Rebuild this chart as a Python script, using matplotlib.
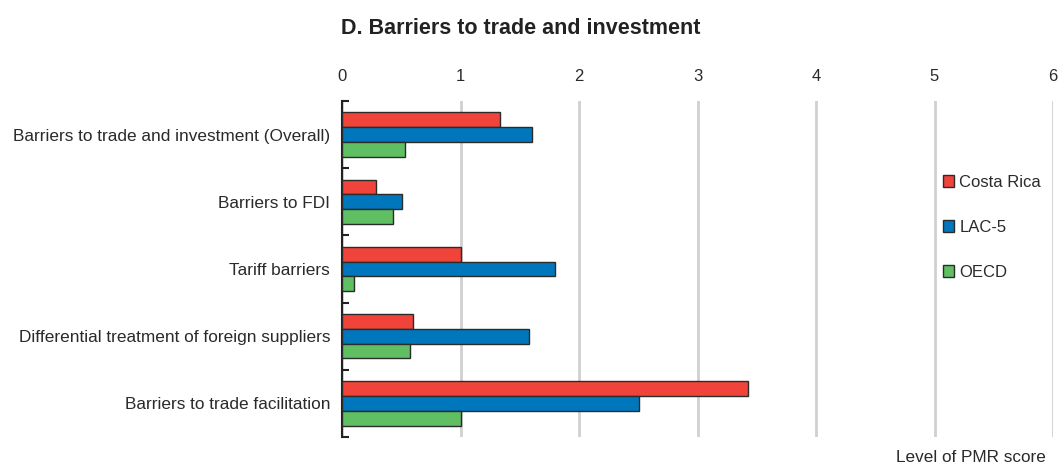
import matplotlib
matplotlib.use("Agg")
import matplotlib.pyplot as plt
from matplotlib.patches import Patch
from matplotlib import font_manager
import numpy as np

categories = [
    "Barriers to trade and investment (Overall)",
    "Barriers to FDI",
    "Tariff barriers",
    "Differential treatment of foreign suppliers",
    "Barriers to trade facilitation",
]
series_names = ["Costa Rica", "LAC-5", "OECD"]
costa_rica = [1.33, 0.29, 1.00, 0.60, 3.43]
lac5 = [1.60, 0.51, 1.80, 1.58, 2.51]
oecd = [0.53, 0.43, 0.10, 0.57, 1.00]
xticks = [0, 1, 2, 3, 4, 5, 6]

colors = ["#F0443A", "#0077BD", "#5FBF62"]

names = {f.name for f in font_manager.fontManager.ttflist}
fam = ["Liberation Sans Narrow", "Liberation Sans", "DejaVu Sans"]
fam = [f for f in fam if f in names] + ["DejaVu Sans"]
plt.rcParams["font.family"] = fam

fig = plt.figure(figsize=(10.62, 4.67), dpi=100)
ax = fig.add_axes([342 / 1062, 1 - 437 / 467, (1053 - 342) / 1062, (437 - 101) / 467])

y = np.arange(len(categories))
h = 0.22
for i, (vals, c, name) in enumerate(zip([costa_rica, lac5, oecd], colors, series_names)):
    ax.barh(y + (i - 1) * h, vals, height=h, color=c, edgecolor="#2b2b2b",
            linewidth=1.0, zorder=3, label=name)

ax.set_xlim(0, 6)
ax.set_ylim(4.5, -0.5)
ax.xaxis.tick_top()
ax.set_xticks(xticks)
ax.set_xticklabels([str(t) for t in xticks], fontsize=12, color="#2a2a2a")
ax.tick_params(axis="x", length=0, pad=12)
ax.grid(axis="x", color="#d0d0d0", linewidth=2, zorder=0)
ax.set_axisbelow(True)

ax.set_yticks(y)
ax.set_yticklabels(categories, fontsize=12.4, color="#2a2a2a")
ax.tick_params(axis="y", which="major", length=0, pad=8.5)
ax.set_yticks(np.arange(-0.5, 5.0, 1.0), minor=True)
ax.tick_params(axis="y", which="minor", length=5, width=1.5, color="#222222", direction="in")

for s in ["top", "right", "bottom"]:
    ax.spines[s].set_visible(False)
ax.spines["left"].set_color("#222222")
ax.spines["left"].set_linewidth(1.5)

handles = [Patch(facecolor=c, edgecolor="#2b2b2b", linewidth=1.0) for c in colors]
leg = ax.legend(handles, series_names, loc="upper left", bbox_to_anchor=(5.0 / 6 + 0.002, 0.80),
                frameon=False, fontsize=12, handlelength=0.7, handleheight=0.7,
                handletextpad=0.3, labelspacing=1.8, borderaxespad=0)
for t in leg.get_texts():
    t.set_color("#2a2a2a")

fig.text(521 / 1062, 1 - 28 / 467, "D. Barriers to trade and investment", ha="center",
         va="center", fontsize=15.5, fontweight="bold", color="#222222")
fig.text(1046 / 1062, 1 - 457 / 467, "Level of PMR score", ha="right", va="center",
         fontsize=12.3, color="#2a2a2a")

fig.savefig("out.png", dpi=100)
